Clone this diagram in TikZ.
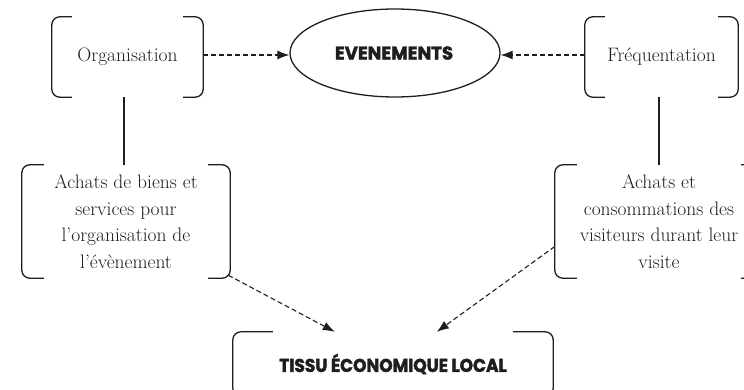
\documentclass[tikz,border=0pt]{standalone}
\usepackage{fontspec}
\usetikzlibrary{shapes.geometric,arrows.meta,calc}
\newfontfamily\displayfont{Poppins}[BoldFont={* Bold}, BoldFeatures={FakeBold=2.2}]
\definecolor{ink}{HTML}{1E1E1E}
\tikzset{
  boxtext/.style={rectangle, inner sep=0pt, align=center, text=ink,
    font=\fontsize{19.5}{26.5}\selectfont},
  brk/.style={draw=ink, line width=1.3pt, rounded corners=8pt},
  link/.style={draw=ink, line width=1.2pt},
  dlink/.style={draw=ink, line width=1.1pt, dash pattern=on 5pt off 3pt,
    -{Latex[length=12pt,width=9pt]}},
  title/.style={font=\displayfont\bfseries\fontsize{18.5}{22}\selectfont, text=ink}
}
\newcommand{\bracketbox}[2]{% node name, arm length
  \draw[brk] ([xshift=#2]#1.north west) -- (#1.north west) -- (#1.south west) -- ([xshift=#2]#1.south west);
  \draw[brk] ([xshift=-#2]#1.north east) -- (#1.north east) -- (#1.south east) -- ([xshift=-#2]#1.south east);
}
\begin{document}
\begin{tikzpicture}[x=1pt,y=-1pt]
\useasboundingbox (0,0) rectangle (744,390);
\clip (0,0) rectangle (744,390);
% nodes
\node[boxtext, minimum width=151pt, minimum height=80pt] (org) at (127.5,57) {Organisation};
\node[boxtext, minimum width=153pt, minimum height=80pt] (freq) at (661.5,57) {Fréquentation};
\node[ellipse, draw=ink, line width=1.3pt, minimum width=210pt, minimum height=88pt, inner sep=0pt] (ev) at (395,53) {};
\node[title] (evt) at (394,53) {\scalebox{0.98}[1]{EVENEMENTS}};
\node[boxtext, minimum width=208pt, minimum height=113pt] (ach1) at (126,221.5)
  {Achats de biens et\\services pour\\l’organisation de\\l’évènement};
\node[boxtext, minimum width=208pt, minimum height=113pt] (ach2) at (659,221.5)
  {Achats et\\consommations des\\visiteurs durant leur\\visite};
\node[title, minimum width=320pt, minimum height=64pt, inner sep=0pt] (tissu) at (393,364) {\scalebox{0.92}[1]{TISSU ÉCONOMIQUE LOCAL}};
% brackets
\bracketbox{org}{20pt}
\bracketbox{freq}{20pt}
\bracketbox{ach1}{22pt}
\bracketbox{ach2}{22pt}
\bracketbox{tissu}{40pt}
% connectors
\coordinate (orgb) at (124,97);
\coordinate (ach1t) at (124,165);
\draw[link] (orgb) -- (ach1t);
\coordinate (freqb) at (659,97);
\draw[link] (freqb) -- (ach2.north);
\draw[dlink] ($(org.east)+(0,-2)$) -- ($(ev.west)+(0,2)$);
\draw[dlink] ($(freq.west)+(0,-2)$) -- ($(ev.east)+(0,2)$);
\coordinate (a1s) at ($(ach1.south east)+(-2,-3)$);
\coordinate (t1) at ($(tissu.north west)+(102,0)$);
\coordinate (a2s) at ($(ach2.west)+(0,25)$);
\coordinate (t2) at ($(tissu.north west)+(204,0)$);
\draw[dlink] (a1s) -- (t1);
\draw[dlink] (a2s) -- (t2);
\end{tikzpicture}
\end{document}
